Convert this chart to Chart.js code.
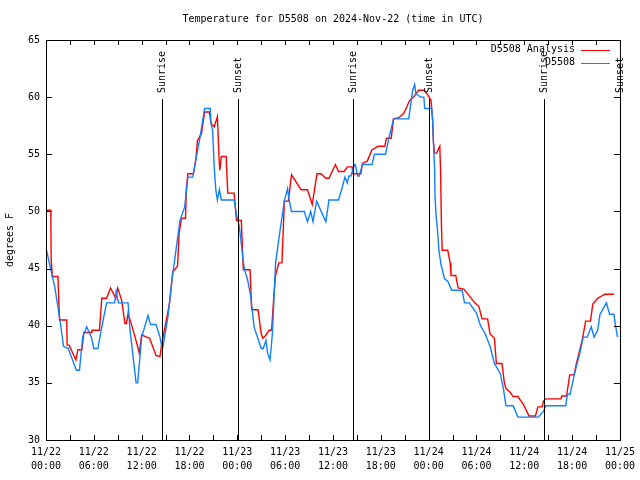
<!DOCTYPE html>
<html>
<head>
<meta charset="utf-8">
<script src="https://cdn.jsdelivr.net/npm/chart.js@4.4.1/dist/chart.umd.min.js"></script>
<style>
  body { margin: 0; background: #fff; }
  #wrap { width: 640px; height: 480px; }
</style>
</head>
<body>
<div id="wrap"><canvas id="tempChart" width="640" height="480"></canvas></div>
<script>
// hours since 11/22 00:00 UTC, temperature in deg F
const hoursAnalysis = [0, 0.6, 0.65, 0.8, 1.5, 1.7, 2.6, 2.65, 2.9, 3.75, 4.0, 4.5, 4.75, 5.7, 5.75, 6.7, 7.0, 7.6, 8.1, 8.75, 9.0, 9.5, 9.9, 10.1, 10.3, 11.3, 11.7, 12.0, 12.6, 13.0, 13.8, 14.3, 14.5, 15.5, 15.9, 16.5, 16.7, 17.0, 17.5, 17.6, 17.8, 18.5, 18.8, 19.0, 19.5, 19.9, 20.5, 20.7, 21.1, 21.5, 21.7, 21.8, 22.0, 22.6, 22.8, 23.6, 23.9, 24.5, 24.75, 25.6, 25.8, 26.6, 27.0, 27.2, 27.5, 28.0, 28.3, 28.6, 28.8, 29.2, 29.6, 29.9, 30.4, 30.8, 32.0, 32.8, 33.4, 33.75, 34.0, 34.5, 35.1, 35.5, 36.3, 36.7, 37.4, 37.8, 38.4, 38.5, 39.5, 39.7, 40.3, 40.9, 41.7, 42.5, 42.7, 43.3, 43.6, 44.25, 44.9, 45.3, 45.6, 46.1, 46.75, 47.4, 47.9, 48.3, 48.5, 48.6, 48.75, 49.0, 49.4, 49.5, 49.6, 49.7, 50.4, 50.7, 50.8, 51.4, 51.7, 52.4, 53.0, 53.8, 54.3, 54.7, 55.4, 55.7, 56.25, 56.5, 57.2, 57.5, 57.7, 58.2, 58.6, 59.2, 59.9, 60.6, 61.4, 61.7, 62.25, 62.4, 62.7, 64.6, 64.7, 65.3, 65.7, 66.25, 66.5, 67.25, 67.7, 68.3, 68.6, 69.2, 69.7, 70.1, 71.25];
const tempAnalysis = [50.1, 50.1, 45.7, 44.3, 44.3, 40.5, 40.5, 38.3, 38.3, 37.0, 37.9, 37.9, 39.4, 39.4, 39.6, 39.6, 42.4, 42.4, 43.3, 42.4, 43.3, 42.2, 40.2, 40.2, 41.1, 38.7, 37.6, 39.2, 39.0, 38.9, 37.4, 37.3, 38.3, 42.0, 44.7, 45.2, 48.1, 49.4, 49.4, 51.9, 53.3, 53.3, 54.6, 56.2, 56.8, 58.7, 58.7, 57.7, 57.4, 58.3, 54.8, 53.6, 54.8, 54.8, 51.6, 51.6, 49.2, 49.2, 44.9, 44.9, 41.4, 41.4, 39.3, 38.9, 39.1, 39.6, 39.6, 42.8, 44.4, 45.5, 45.5, 50.9, 50.9, 53.2, 51.9, 51.9, 50.6, 52.2, 53.3, 53.3, 52.9, 52.9, 54.1, 53.5, 53.5, 53.9, 53.9, 53.3, 53.3, 54.2, 54.4, 55.4, 55.7, 55.7, 56.4, 56.4, 58.1, 58.2, 58.6, 59.2, 59.7, 60.0, 60.6, 60.6, 60.2, 59.7, 58.0, 56.1, 55.1, 55.1, 55.7, 53.5, 49.0, 46.6, 46.6, 45.5, 44.4, 44.4, 43.3, 43.2, 42.7, 42.0, 41.7, 40.6, 40.6, 39.3, 38.9, 36.7, 36.7, 35.0, 34.5, 34.2, 33.8, 33.8, 33.1, 32.1, 32.1, 32.9, 32.9, 33.4, 33.6, 33.6, 33.85, 33.85, 35.7, 35.7, 36.6, 38.7, 40.4, 40.4, 41.9, 42.4, 42.6, 42.75, 42.75];

const hoursObs = [0, 0.8, 1.1, 1.75, 2.2, 2.8, 3.8, 4.2, 4.6, 5.1, 5.7, 6.0, 6.5, 7.0, 7.6, 8.6, 8.8, 9.1, 10.3, 10.5, 11.3, 11.5, 12.0, 12.8, 13.1, 13.8, 14.3, 14.6, 15.3, 15.8, 16.3, 16.8, 17.4, 17.8, 18.4, 19.25, 19.9, 20.6, 20.7, 20.9, 21.1, 21.3, 21.5, 21.75, 22.0, 23.6, 23.9, 24.25, 24.7, 24.9, 25.3, 25.7, 26.1, 27.0, 27.25, 27.6, 27.8, 28.1, 28.4, 28.8, 29.25, 29.9, 30.3, 30.5, 30.8, 32.4, 32.8, 33.2, 33.5, 33.95, 35.1, 35.5, 36.7, 37.2, 37.5, 37.8, 38.0, 38.25, 38.7, 38.8, 39.1, 39.3, 39.7, 40.9, 41.2, 42.6, 43.0, 43.6, 45.5, 46.0, 46.25, 46.4, 47.0, 47.4, 47.5, 48.4, 48.5, 48.6, 48.75, 48.8, 48.95, 49.1, 49.3, 49.6, 50.0, 50.4, 50.9, 52.2, 52.5, 53.1, 54.0, 54.5, 55.1, 55.7, 56.25, 57.0, 57.4, 57.7, 58.6, 59.2, 61.75, 62.4, 62.7, 65.2, 65.4, 65.75, 66.3, 67.0, 67.4, 67.9, 68.4, 68.75, 69.2, 69.5, 70.3, 70.7, 71.25, 71.4, 71.7];
const tempObs = [46.8, 44.3, 43.4, 40.5, 38.2, 38.0, 36.1, 36.1, 39.0, 39.9, 39.0, 38.0, 38.0, 39.9, 42.0, 42.0, 43.0, 42.0, 42.0, 39.9, 35.0, 35.0, 39.0, 40.9, 40.1, 40.1, 39.0, 37.9, 40.8, 44.0, 46.6, 49.2, 50.4, 53.0, 53.0, 56.2, 59.0, 59.0, 57.7, 57.1, 53.9, 51.9, 51.0, 51.9, 51.0, 51.0, 49.7, 48.7, 45.9, 44.9, 44.0, 42.5, 39.9, 38.0, 38.0, 38.7, 37.6, 37.0, 39.3, 45.5, 47.8, 50.9, 52.0, 51.0, 50.0, 50.0, 49.1, 50.0, 49.1, 50.9, 49.1, 51.0, 51.0, 52.2, 53.0, 52.5, 53.1, 53.1, 54.1, 54.1, 53.1, 53.1, 54.1, 54.1, 55.0, 55.0, 56.4, 58.1, 58.1, 60.6, 61.1, 60.3, 60.0, 60.0, 59.0, 59.0, 58.0, 56.1, 53.8, 51.3, 49.5, 48.5, 46.5, 45.2, 44.1, 43.9, 43.1, 43.1, 42.0, 42.0, 41.1, 40.0, 39.3, 38.2, 36.7, 35.8, 34.4, 33.0, 33.0, 32.0, 32.0, 32.5, 33.0, 33.0, 34.0, 34.0, 35.8, 37.7, 39.0, 39.0, 39.9, 39.0, 39.6, 41.0, 42.0, 41.0, 41.0, 40.2, 39.0];

const tickDates = ['11/22', '11/22', '11/22', '11/22', '11/23', '11/23', '11/23', '11/23', '11/24', '11/24', '11/24', '11/24', '11/25'];
const tickTimes = ['00:00', '06:00', '12:00', '18:00', '00:00', '06:00', '12:00', '18:00', '00:00', '06:00', '12:00', '18:00', '00:00'];

const sunHours = [14.5, 24.1, 38.5, 48.0, 62.5, 72.0];
const sunLabels = ['Sunrise', 'Sunset', 'Sunrise', 'Sunset', 'Sunrise', 'Sunset'];

const seriesNames = ['D5508 Analysis', 'D5508'];
const seriesColors = ['#ff0000', '#1080ff'];

const FONT = '10px "DejaVu Sans Mono", monospace';

const toPoints = (hs, ts) => hs.map((h, i) => ({ x: h, y: ts[i] }));

// frame, inward ticks, title, sun lines, legend
const gnuplotLook = {
    id: 'gnuplotLook',
    afterDatasetsDraw(chart) {
        const { ctx, chartArea: a, scales } = chart;
        const xs = scales.x, ys = scales.y;
        ctx.save();
        ctx.strokeStyle = '#000';
        ctx.lineWidth = 1;
        ctx.strokeRect(a.left + 0.5, a.top + 0.5, a.right - a.left, a.bottom - a.top);

        ctx.beginPath();
        for (let v = 0; v <= 72; v += 3) {
            const px = Math.round(xs.getPixelForValue(v)) + 0.5;
            ctx.moveTo(px, a.bottom); ctx.lineTo(px, a.bottom - 5);
            ctx.moveTo(px, a.top); ctx.lineTo(px, a.top + 5);
        }
        for (let v = 30; v <= 65; v += 5) {
            const py = Math.round(ys.getPixelForValue(v)) + 0.5;
            ctx.moveTo(a.left, py); ctx.lineTo(a.left + 6, py);
            ctx.moveTo(a.right, py); ctx.lineTo(a.right - 6, py);
        }
        ctx.stroke();

        // sunrise / sunset markers
        ctx.font = FONT;
        ctx.fillStyle = '#000';
        sunHours.forEach((h, i) => {
            const px = Math.round(xs.getPixelForValue(h)) + 0.5;
            ctx.beginPath();
            ctx.moveTo(px, a.top + 59);
            ctx.lineTo(px, a.bottom);
            ctx.stroke();
            ctx.save();
            ctx.translate(px, a.top + 53);
            ctx.rotate(-Math.PI / 2);
            ctx.textAlign = 'left';
            ctx.textBaseline = 'middle';
            ctx.fillText(sunLabels[i], 0, 0);
            ctx.restore();
        });

        // title
        ctx.textAlign = 'center';
        ctx.textBaseline = 'middle';
        ctx.fillText('Temperature for D5508 on 2024-Nov-22 (time in UTC)', (a.left + a.right) / 2, 19);

        // legend
        seriesNames.forEach((name, i) => {
            const y = 49.5 + i * 13;
            ctx.textAlign = 'right';
            ctx.fillStyle = '#000';
            ctx.fillText(name, 575, y);
            ctx.strokeStyle = seriesColors[i];
            ctx.beginPath();
            ctx.moveTo(581, Math.round(y) + 0.5);
            ctx.lineTo(610, Math.round(y) + 0.5);
            ctx.stroke();
        });
        ctx.restore();
    }
};

new Chart(document.getElementById('tempChart'), {
    type: 'line',
    data: {
        datasets: [
            {
                label: seriesNames[0],
                data: toPoints(hoursAnalysis, tempAnalysis),
                borderColor: seriesColors[0],
                borderWidth: 1.4,
                pointRadius: 0,
                tension: 0,
                order: 2
            },
            {
                label: seriesNames[1],
                data: toPoints(hoursObs, tempObs),
                borderColor: seriesColors[1],
                borderWidth: 1.4,
                pointRadius: 0,
                tension: 0,
                order: 1
            }
        ]
    },
    options: {
        responsive: false,
        animation: false,
        devicePixelRatio: 1,
        layout: { padding: { top: 40, right: 17, left: 0, bottom: 0 } },
        scales: {
            x: {
                type: 'linear',
                min: 0, max: 72,
                afterFit: s => { s.height = 40; },
                grid: { display: false, drawTicks: false },
                border: { display: false },
                ticks: {
                    stepSize: 6,
                    autoSkip: false,
                    maxRotation: 0,
                    padding: 5,
                    color: '#000',
                    font: { family: '"DejaVu Sans Mono", monospace', size: 10, lineHeight: 1.4 },
                    callback: v => [tickDates[v / 6], tickTimes[v / 6]]
                }
            },
            y: {
                min: 30, max: 65,
                afterFit: s => { s.width = 46; },
                grid: { display: false, drawTicks: false },
                border: { display: false },
                ticks: {
                    stepSize: 5,
                    padding: 6,
                    color: '#000',
                    font: { family: '"DejaVu Sans Mono", monospace', size: 10 }
                },
                title: {
                    display: true,
                    text: 'degrees F',
                    color: '#000',
                    padding: { top: 4, bottom: 0 },
                    font: { family: '"DejaVu Sans Mono", monospace', size: 10 }
                }
            }
        },
        plugins: {
            legend: { display: false },
            tooltip: { enabled: false }
        }
    },
    plugins: [gnuplotLook]
});
</script>
</body>
</html>
